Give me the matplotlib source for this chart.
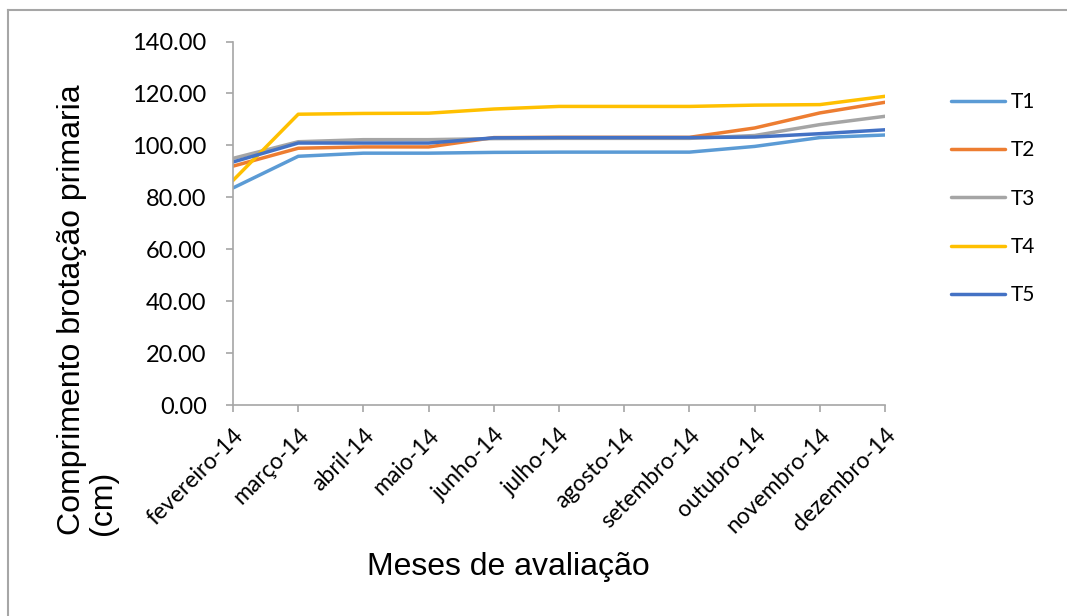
import matplotlib.pyplot as plt
from matplotlib.lines import Line2D

meses = ["fevereiro-14", "março-14", "abril-14", "maio-14", "junho-14", "julho-14",
         "agosto-14", "setembro-14", "outubro-14", "novembro-14", "dezembro-14"]

t1 = [83.6, 95.8, 97.0, 97.0, 97.3, 97.4, 97.4, 97.4, 99.6, 103.0, 104.0]
t2 = [92.0, 98.9, 99.4, 99.4, 103.0, 103.1, 103.1, 103.1, 106.7, 112.5, 116.6]
t3 = [95.0, 101.4, 102.2, 102.2, 102.6, 102.7, 102.7, 102.7, 103.8, 108.0, 111.2]
t4 = [86.5, 112.0, 112.3, 112.4, 114.0, 115.0, 115.0, 115.0, 115.5, 115.7, 118.9]
t5 = [93.6, 100.9, 100.9, 100.9, 102.9, 103.0, 103.0, 103.0, 103.2, 104.5, 106.0]

series = [("T1", t1, "#5B9BD5"), ("T2", t2, "#ED7D31"), ("T3", t3, "#A5A5A5"),
          ("T4", t4, "#FFC000"), ("T5", t5, "#4472C4")]

fig = plt.figure(figsize=(10.67, 6.16), dpi=100)
ax = fig.add_axes([0.2184, 0.3425, 0.6111, 0.5901])

x = list(range(len(meses)))
for nome, vals, cor in series:
    ax.plot(x, vals, color=cor, lw=2.5, label=nome, solid_capstyle="round")

ax.set_xlim(0, len(meses) - 1)
ax.set_ylim(0, 140)
ax.set_yticks(range(0, 141, 20))
ax.set_yticklabels([f"{v:.2f}" for v in range(0, 141, 20)], family="Lato", fontsize=17)
ax.set_xticks(x)
ax.set_xticklabels(meses, family="Lato", fontsize=16.5, rotation=45,
                   ha="right", rotation_mode="anchor")

for s in ["top", "right"]:
    ax.spines[s].set_visible(False)
for s in ["left", "bottom"]:
    ax.spines[s].set_color("#A6A6A6")
    ax.spines[s].set_linewidth(1.2)
ax.tick_params(axis="both", color="#A6A6A6", width=1.2, length=5, direction="out")
ax.tick_params(axis="y", pad=14)
ax.tick_params(axis="x", pad=9)

fig.text(0.082, 0.497, "Comprimento brotação primaria\n(cm)", rotation=90,
         ha="center", va="center", multialignment="left",
         family="Liberation Sans", fontsize=23, linespacing=1.05)
fig.text(0.476, 0.08, "Meses de avaliação", ha="center", va="center",
         family="Liberation Sans", fontsize=23)

fig.legend(loc="upper left", bbox_to_anchor=(0.8835, 0.864), frameon=False,
           prop={"family": "Lato", "size": 15}, labelspacing=1.36,
           handlelength=2.6, handletextpad=0.25, borderaxespad=0)

# outer chart-area frame (top and left edges)
fx, fy = 8 / 1067, 1 - 9.5 / 616
fig.add_artist(Line2D([fx, 1], [fy, fy], transform=fig.transFigure,
                      color="#A6A6A6", lw=1.5))
fig.add_artist(Line2D([fx, fx], [0, fy], transform=fig.transFigure,
                      color="#A6A6A6", lw=1.5))

fig.savefig("out.png", dpi=100)
